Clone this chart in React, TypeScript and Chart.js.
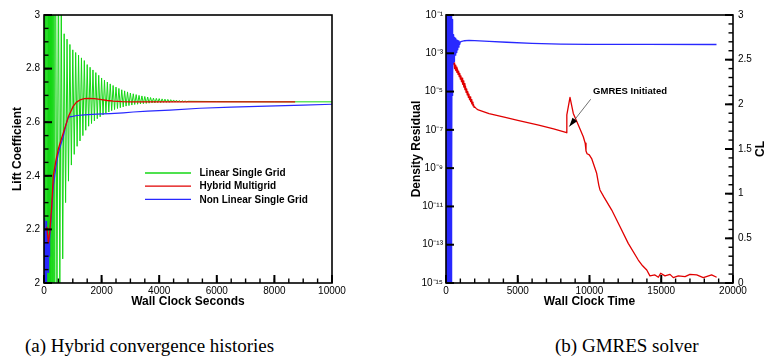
import React, { useEffect, useRef } from 'react';
import { Chart, registerables } from 'chart.js';

Chart.register(...registerables);

const FONT = '"Liberation Sans", Arial, Helvetica, sans-serif';

// ---------------- Panel (a): lift coefficient histories ----------------
const LS_T = [
  0, 20, 40, 60, 80, 100, 120, 140, 160, 180, 200, 220, 240, 260, 280, 300, 320, 340, 360, 380,
  400, 450, 500, 550, 600, 650, 700, 750, 800, 850, 900, 950, 1000, 1050, 1100, 1150, 1200, 1250,
  1300, 1350, 1400, 1450, 1500, 1550, 1600, 1650, 1700, 1750, 1800, 1850, 1900, 1950, 2000, 2050,
  2100, 2150, 2200, 2250, 2300, 2350, 2400, 2450, 2500, 2550, 2600, 2650, 2700, 2750, 2800, 2850,
  2900, 2950, 3000, 3050, 3100, 3150, 3200, 3250, 3300, 3350, 3400, 3450, 3500, 3550, 3600, 3650,
  3700, 3750, 3800, 3850, 3900, 3950, 4000, 4050, 4100, 4150, 4200, 4250, 4300, 4350, 4400, 4450,
  4500, 4550, 4600, 4650, 4700, 4750, 4800, 4850, 4900, 4950, 5000, 6000, 8000, 10000,
];
const LS_CL = [
  2.1, 3.3, 1.7, 3.3, 1.7, 3.3, 1.7, 3.3, 1.7, 3.3, 1.7, 3.3, 1.7, 3.3, 1.7, 3.3, 1.7, 3.3, 1.7, 3.3,
  3.3, 1.9, 3.2, 2.0, 3.05, 2.09, 2.93, 2.30, 2.91, 2.38, 2.89, 2.44, 2.87, 2.48, 2.86, 2.51, 2.85, 2.53,
  2.84, 2.55, 2.83, 2.57, 2.815, 2.585, 2.805, 2.595, 2.795, 2.605, 2.785, 2.613, 2.775, 2.62, 2.765, 2.627,
  2.757, 2.633, 2.75, 2.638, 2.743, 2.643, 2.737, 2.647, 2.731, 2.651, 2.726, 2.654, 2.721, 2.657, 2.717, 2.66,
  2.713, 2.662, 2.709, 2.664, 2.706, 2.666, 2.703, 2.667, 2.7, 2.668, 2.698, 2.669, 2.696, 2.67, 2.694, 2.671,
  2.692, 2.672, 2.69, 2.672, 2.689, 2.673, 2.688, 2.673, 2.687, 2.674, 2.686, 2.674, 2.685, 2.674, 2.684, 2.675,
  2.683, 2.675, 2.682, 2.675, 2.681, 2.675, 2.68, 2.676, 2.679, 2.676, 2.678, 2.677, 2.676, 2.676,
];

const HM_T = [100, 150, 200, 266, 323, 410, 497, 580, 670, 760, 844, 930, 1017, 1130, 1250, 1400, 1539, 1750, 1944, 2200, 2407, 2700, 3000, 5000, 8720];
const HM_CL = [2.21, 2.15, 2.19, 2.285, 2.40, 2.455, 2.50, 2.53, 2.56, 2.59, 2.62, 2.64, 2.66, 2.675, 2.683, 2.688, 2.689, 2.688, 2.685, 2.681, 2.679, 2.677, 2.676, 2.676, 2.676];

const NL_T = [
  0, 10, 20, 30, 40, 50, 60, 70, 80, 90, 100, 110, 120, 130, 140, 150, 160, 170, 180, 190, 200,
  260, 323, 410, 497, 580, 670, 760, 844, 880, 1000,
  1135, 1400, 1829, 2300, 2753, 3100, 3600, 4375, 5417, 6500, 7733, 9000, 10000,
];
const NL_CL = [
  1.95, 2.22, 2.0, 2.24, 1.98, 2.2, 2.02, 2.23, 2.0, 2.18, 2.03, 2.2, 2.05, 2.16, 2.04, 2.17, 2.08, 2.15, 2.1, 2.16, 2.16,
  2.26, 2.36, 2.43, 2.484, 2.515, 2.546, 2.59, 2.618, 2.62, 2.622,
  2.625, 2.627, 2.63, 2.632, 2.635, 2.638, 2.641, 2.645, 2.652, 2.656, 2.66, 2.664, 2.667,
];

const LEFT_LABELS = ['Linear Single Grid', 'Hybrid Multigrid', 'Non Linear Single Grid'];
const LEFT_X_TICKS = [0, 2000, 4000, 6000, 8000, 10000];
const LEFT_Y_TICKS = [2, 2.2, 2.4, 2.6, 2.8, 3];
const LEFT_X_MINOR_STEP = 500;
const LEFT_Y_MINOR_STEP = 0.05;

// ---------------- Panel (b): GMRES solver ----------------
const RES_T = [
  560, 600, 640, 680, 720, 760, 800, 840, 880, 920, 960, 1000, 1040, 1080, 1120, 1160, 1200, 1240, 1280, 1320,
  1360, 1400, 1440, 1480, 1520, 1560, 1600, 1640, 1680, 1720, 1760, 1800, 1840, 1880, 1920, 1960, 2000,
  2100, 2250, 2600, 3000, 4130, 5000, 6460, 7500, 8411,
  8420, 8641, 8871, 9220, 9568, 9700, 9756, 9830, 9986, 10150,
  10500, 10650, 10730, 11000, 11550, 12130, 12700, 13400, 13700, 13990,
  14210, 14560, 14800, 14960, 15260, 15610, 15840, 16190, 16660, 17000, 17470, 17930, 18510, 18860,
];
const RES_LOG10 = [
  -3.50, -3.80, -3.62, -3.90, -3.72, -4.00, -3.82, -4.10, -3.93, -4.22, -4.05, -4.35, -4.18, -4.48, -4.30, -4.62, -4.44, -4.76, -4.58, -4.90,
  -4.72, -5.04, -4.86, -5.17, -5.00, -5.30, -5.14, -5.42, -5.28, -5.53, -5.42, -5.64, -5.55, -5.74, -5.68, -5.82, -5.80,
  -5.88, -5.96, -6.05, -6.15, -6.35, -6.50, -6.75, -6.95, -7.15,
  -6.22, -5.30, -6.14, -6.75, -7.36, -7.70, -8.10, -8.25, -8.31, -8.50,
  -9.27, -9.90, -10.14, -10.50, -11.19, -12.06, -12.93, -13.80, -14.10, -14.32,
  -14.63, -14.58, -14.70, -14.49, -14.63, -14.55, -14.72, -14.63, -14.67, -14.55, -14.58, -14.72, -14.58, -14.70,
];

const GCL_T = [
  0, 20, 40, 60, 80, 100, 120, 140, 160, 180, 200, 220, 240, 260, 280, 300, 320, 340, 360, 380, 400,
  420, 440, 460, 480, 500, 520, 540, 560, 580, 600,
  630, 660, 690, 720, 750, 780,
  820, 860, 900, 950, 1000,
  1100, 1300, 1600, 2000, 3000, 4230, 6000, 8000, 10000, 14000, 18850,
];
const GCL = [
  0, 3.3, -0.3, 3.3, -0.3, 3.3, -0.3, 3.3, -0.3, 3.3, -0.3, 3.3, -0.3, 3.3, -0.3, 3.3, -0.3, 3.3, -0.3, 3.3, 0.8,
  2.95, 2.1, 2.85, 2.3, 2.78, 2.45, 2.76, 2.48, 2.75, 2.52,
  2.74, 2.55, 2.73, 2.58, 2.72, 2.61,
  2.715, 2.64, 2.71, 2.67, 2.7,
  2.705, 2.712, 2.715, 2.713, 2.705, 2.695, 2.683, 2.675, 2.672, 2.671, 2.67,
];

const RIGHT_X_TICKS = [0, 5000, 10000, 15000, 20000];
const RIGHT_RES_TICKS = [1e-15, 1e-13, 1e-11, 1e-9, 1e-7, 1e-5, 1e-3, 1e-1];
const RIGHT_CL_TICKS = [0, 0.5, 1, 1.5, 2, 2.5, 3];
const RIGHT_X_MINOR_STEP = 1000;
const RIGHT_CL_MINOR_STEP = 0.1;

const ANNOT_TEXT = 'GMRES Initiated';
const ANNOT_TEXT_AT = { t: 10250, log10: -4.97 };
const ANNOT_TAIL = { t: 10084, log10: -5.4 };
const ANNOT_TIP = { t: 8592, log10: -6.83 };

const CAPTION_A = '(a) Hybrid convergence histories';
const CAPTION_B = '(b) GMRES solver';

const GREEN = 'rgb(20,215,20)';
const RED = 'rgb(225,0,0)';
const BLUE = 'rgb(40,40,255)';

const pairs = (xs: number[], ys: number[]) => xs.map((x, i) => ({ x, y: ys[i] }));
const plain = (v: any) => String(Number(v));

const SUP: Record<string, string> = {
  '-': '\u207B', '0': '\u2070', '1': '\u00B9', '2': '\u00B2', '3': '\u00B3', '4': '\u2074',
  '5': '\u2075', '6': '\u2076', '7': '\u2077', '8': '\u2078', '9': '\u2079',
};
const sup = (n: number) => String(n).split('').map((c) => SUP[c] || c).join('');

function setTicks(values: number[]) {
  return (scale: any) => {
    scale.ticks = values.map((v) => ({ value: v }));
  };
}

function minorValues(scale: any, step: number) {
  const out: number[] = [];
  const n = Math.round((scale.max - scale.min) / step);
  for (let k = 0; k <= n; k++) out.push(scale.min + k * step);
  return out;
}

function stroke(ctx: any, x1: number, y1: number, x2: number, y2: number, w: number) {
  ctx.lineWidth = w;
  ctx.beginPath();
  ctx.moveTo(x1, y1);
  ctx.lineTo(x2, y2);
  ctx.stroke();
}

function bottomTicks(chart: any, id: string, minorStep: number) {
  const { ctx, chartArea } = chart;
  const sc = chart.scales[id];
  const b = chartArea.bottom;
  for (const v of minorValues(sc, minorStep)) {
    const p = sc.getPixelForValue(v);
    stroke(ctx, p, b, p, b - 4.5, 1.4);
  }
  for (const t of sc.ticks) {
    const p = sc.getPixelForValue(t.value);
    stroke(ctx, p, b, p, b - 8, 2);
  }
}

function sideTicks(chart: any, id: string, side: 'left' | 'right', minorStep: number) {
  const { ctx, chartArea } = chart;
  const sc = chart.scales[id];
  const x0 = side === 'left' ? chartArea.left : chartArea.right;
  const dir = side === 'left' ? 1 : -1;
  if (minorStep > 0) {
    for (const v of minorValues(sc, minorStep)) {
      const p = sc.getPixelForValue(v);
      stroke(ctx, x0, p, x0 + dir * 4.5, p, 1.4);
    }
  }
  for (const t of sc.ticks) {
    const p = sc.getPixelForValue(t.value);
    stroke(ctx, x0, p, x0 + dir * 8, p, 2);
  }
}

function frame(chart: any) {
  const { ctx, chartArea } = chart;
  const { left, right, top, bottom } = chartArea;
  ctx.lineWidth = 1.6;
  ctx.strokeRect(left, top, right - left, bottom - top);
}

const leftPlugin = {
  id: 'leftDecor',
  afterDraw(chart: any) {
    const { ctx } = chart;
    ctx.save();
    ctx.strokeStyle = '#000';
    bottomTicks(chart, 'x', LEFT_X_MINOR_STEP);
    sideTicks(chart, 'y', 'left', LEFT_Y_MINOR_STEP);
    frame(chart);
    ctx.font = `bold 10px ${FONT}`;
    ctx.textBaseline = 'middle';
    ctx.fillStyle = '#000';
    chart.data.datasets.forEach((ds: any, i: number) => {
      const y = 173 + i * 13.2;
      ctx.strokeStyle = ds.borderColor;
      stroke(ctx, 145, y, 191, y, 1.3);
      ctx.fillText(ds.label, 199.5, y + 0.5);
    });
    ctx.restore();
  },
};

const rightPlugin = {
  id: 'rightDecor',
  afterDraw(chart: any) {
    const { ctx } = chart;
    ctx.save();
    ctx.strokeStyle = '#000';
    bottomTicks(chart, 'x', RIGHT_X_MINOR_STEP);
    sideTicks(chart, 'y', 'left', 0);
    sideTicks(chart, 'y2', 'right', RIGHT_CL_MINOR_STEP);
    frame(chart);
    const sx = chart.scales.x;
    const sy = chart.scales.y;
    const tx = sx.getPixelForValue(ANNOT_TEXT_AT.t);
    const ty = sy.getPixelForValue(Math.pow(10, ANNOT_TEXT_AT.log10));
    ctx.fillStyle = '#000';
    ctx.font = `bold 9.5px ${FONT}`;
    ctx.textBaseline = 'middle';
    ctx.fillText(ANNOT_TEXT, tx, ty);
    const ax = sx.getPixelForValue(ANNOT_TAIL.t);
    const ay = sy.getPixelForValue(Math.pow(10, ANNOT_TAIL.log10));
    const bx = sx.getPixelForValue(ANNOT_TIP.t);
    const by = sy.getPixelForValue(Math.pow(10, ANNOT_TIP.log10));
    ctx.strokeStyle = '#333';
    stroke(ctx, ax, ay, bx, by, 0.7);
    const ang = Math.atan2(by - ay, bx - ax);
    const L = 9;
    const W = 3;
    const baseX = bx - L * Math.cos(ang);
    const baseY = by - L * Math.sin(ang);
    ctx.beginPath();
    ctx.moveTo(bx, by);
    ctx.lineTo(baseX + W * Math.sin(ang), baseY - W * Math.cos(ang));
    ctx.lineTo(baseX - W * Math.sin(ang), baseY + W * Math.cos(ang));
    ctx.closePath();
    ctx.fill();
    ctx.font = `bold 12px ${FONT}`;
    ctx.textAlign = 'center';
    ctx.translate(377, (chart.chartArea.top + chart.chartArea.bottom) / 2);
    ctx.rotate(-Math.PI / 2);
    ctx.fillText('CL', 0, 0);
    ctx.restore();
  },
};

const tickFont = { family: FONT, size: 10 };
const titleFont = { family: FONT, size: 12, weight: 'bold' as const };

export default function App() {
  const leftRef = useRef<HTMLCanvasElement>(null);
  const rightRef = useRef<HTMLCanvasElement>(null);

  useEffect(() => {
    Chart.defaults.color = '#000';
    Chart.defaults.font.family = FONT;

    const left = new Chart(leftRef.current as HTMLCanvasElement, {
      type: 'line',
      data: {
        datasets: [
          { label: LEFT_LABELS[0], data: pairs(LS_T, LS_CL), borderColor: GREEN, borderWidth: 1, order: 3 },
          { label: LEFT_LABELS[1], data: pairs(HM_T, HM_CL), borderColor: RED, borderWidth: 1.3, order: 1 },
          { label: LEFT_LABELS[2], data: pairs(NL_T, NL_CL), borderColor: BLUE, borderWidth: 1.2, order: 2 },
        ],
      },
      options: {
        responsive: false,
        animation: false,
        parsing: false as any,
        normalized: true,
        elements: { point: { radius: 0 }, line: { tension: 0, borderJoinStyle: 'round' } },
        layout: { padding: { top: 15, right: 52, left: 0, bottom: 0 } },
        plugins: { legend: { display: false }, tooltip: { enabled: false } },
        scales: {
          x: {
            type: 'linear',
            min: 0,
            max: 10000,
            afterBuildTicks: setTicks(LEFT_X_TICKS),
            afterFit: (s: any) => { s.height = 37; },
            grid: { display: false, drawTicks: false },
            border: { display: false },
            ticks: { font: tickFont, padding: 2, maxRotation: 0, autoSkip: false, callback: plain },
            title: { display: true, text: 'Wall Clock Seconds', font: titleFont, padding: { top: 0, bottom: 11 } },
          },
          y: {
            type: 'linear',
            min: 2,
            max: 3,
            afterBuildTicks: setTicks(LEFT_Y_TICKS),
            afterFit: (s: any) => { s.width = 44; },
            grid: { display: false, drawTicks: false },
            border: { display: false },
            ticks: { font: tickFont, padding: 4, autoSkip: false, callback: plain },
            title: { display: true, text: 'Lift Coefficient', font: titleFont, padding: { top: 10, bottom: 0 } },
          },
        },
      },
      plugins: [leftPlugin],
    });

    const right = new Chart(rightRef.current as HTMLCanvasElement, {
      type: 'line',
      data: {
        datasets: [
          {
            label: 'Density Residual',
            data: RES_T.map((t, i) => ({ x: t, y: Math.pow(10, RES_LOG10[i]) })),
            borderColor: RED,
            borderWidth: 1.3,
            yAxisID: 'y',
          },
          { label: 'CL', data: pairs(GCL_T, GCL), borderColor: BLUE, borderWidth: 1.3, yAxisID: 'y2' },
        ],
      },
      options: {
        responsive: false,
        animation: false,
        parsing: false as any,
        normalized: true,
        elements: { point: { radius: 0 }, line: { tension: 0, borderJoinStyle: 'round' } },
        layout: { padding: { top: 15, right: 0, left: 0, bottom: 0 } },
        plugins: { legend: { display: false }, tooltip: { enabled: false } },
        scales: {
          x: {
            type: 'linear',
            min: 0,
            max: 20000,
            afterBuildTicks: setTicks(RIGHT_X_TICKS),
            afterFit: (s: any) => { s.height = 37; },
            grid: { display: false, drawTicks: false },
            border: { display: false },
            ticks: { font: tickFont, padding: 2, maxRotation: 0, autoSkip: false, callback: plain },
            title: { display: true, text: 'Wall Clock Time', font: titleFont, padding: { top: 0, bottom: 11 } },
          },
          y: {
            type: 'logarithmic',
            position: 'left',
            min: 1e-15,
            max: 1e-1,
            afterBuildTicks: setTicks(RIGHT_RES_TICKS),
            afterFit: (s: any) => { s.width = 62; },
            grid: { display: false, drawTicks: false },
            border: { display: false },
            ticks: {
              font: tickFont,
              padding: 3,
              autoSkip: false,
              callback: (v: any) => '10' + sup(Math.round(Math.log10(Number(v)))),
            },
            title: { display: true, text: 'Density Residual', font: titleFont, padding: { top: 25, bottom: 0 } },
          },
          y2: {
            type: 'linear',
            position: 'right',
            min: 0,
            max: 3,
            afterBuildTicks: setTicks(RIGHT_CL_TICKS),
            afterFit: (s: any) => { s.width = 35; },
            grid: { display: false, drawTicks: false },
            border: { display: false },
            ticks: { font: tickFont, padding: 5, autoSkip: false, callback: plain },
          },
        },
      },
      plugins: [rightPlugin],
    });

    return () => {
      left.destroy();
      right.destroy();
    };
  }, []);

  const captionStyle: React.CSSProperties = {
    position: 'absolute',
    top: 335,
    fontFamily: '"Liberation Serif", "Times New Roman", serif',
    fontSize: 19,
    whiteSpace: 'nowrap',
    color: '#000',
  };

  return (
    <div style={{ position: 'absolute', left: 0, top: 0, width: 768, height: 360, background: '#fff', overflow: 'hidden' }}>
      <div style={{ position: 'absolute', left: 0, top: 0, width: 384, height: 320 }}>
        <canvas ref={leftRef} width={384} height={320} style={{ display: 'block' }} />
      </div>
      <div style={{ position: 'absolute', left: 384, top: 0, width: 384, height: 320 }}>
        <canvas ref={rightRef} width={384} height={320} style={{ display: 'block' }} />
      </div>
      <div style={{ ...captionStyle, left: 25 }}>{CAPTION_A}</div>
      <div style={{ ...captionStyle, left: 555 }}>{CAPTION_B}</div>
    </div>
  );
}
